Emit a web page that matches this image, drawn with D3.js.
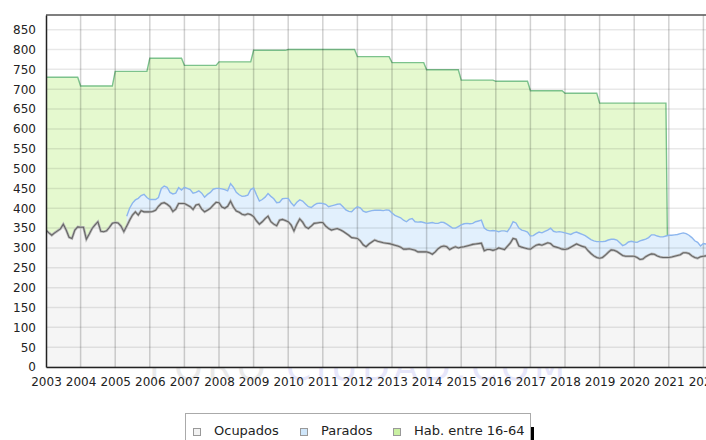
<!DOCTYPE html>
<html>
<head>
<meta charset="utf-8">
<script src="https://cdn.jsdelivr.net/npm/d3@7"></script>
<style>
  body { margin: 0; background: #fff; }
  svg { display: block; font-family: "DejaVu Sans", sans-serif; }
</style>
</head>
<body>
<div id="chart"></div>
<script>
var svgWidth = 706;
var svgHeight = 440;

var margin = { top: 15, left: 46, bottom: 73 };

// Hab. entre 16-64: one value per year (drawn flat through the 12 months)
var habYears = [2003, 2004, 2005, 2006, 2007, 2008, 2009, 2010, 2011, 2012,
    2013, 2014, 2015, 2016, 2017, 2018, 2019, 2020];
var habValues = [730, 708, 745, 778, 760, 769, 798, 800, 800, 782,
    767, 749, 723, 720, 696, 690, 665, 665];
var habEnd = 0; // series stops after 2020

// Ocupados, monthly from January 2003
var ocupStart = 2003;
var ocupados = [
    345, 338, 332, 338, 343, 348, 360, 345, 327, 324, 345, 353,
    352, 352, 322, 335, 349, 358, 366, 342, 341, 343, 352, 362,
    364, 363, 355, 341, 355, 370, 383, 391, 383, 394, 391, 391,
    391, 392, 395, 405, 412, 414, 410, 404, 392, 398, 412, 412,
    412, 408, 404, 397, 408, 410, 398, 391, 395, 400, 408, 415,
    414, 403, 400, 405, 418, 403, 393, 390, 385, 383, 386, 384,
    379, 368, 360, 366, 374, 380, 366, 360, 356, 370, 372, 369,
    366, 358, 343, 360, 373, 365, 353, 349, 355, 362, 363, 364,
    364, 355, 349, 345, 347, 349, 346, 342, 337, 332, 326, 325,
    324, 318, 308, 303, 310, 315, 320, 317, 315, 313, 312, 311,
    309, 307, 305, 302, 297, 297, 298, 296, 294, 290, 290, 290,
    290, 288, 284, 290, 298, 303, 305, 303, 296, 300, 303, 300,
    302, 303, 305, 307, 309, 310, 311, 312, 293, 296, 296, 294,
    296, 300, 298, 296, 304, 312, 324, 322, 305, 302, 300, 298,
    297, 302, 307, 309, 307, 310, 313, 311, 304, 302, 300, 297,
    296, 298, 302, 306, 310, 307, 304, 302, 293, 286, 280, 276,
    274, 276, 282, 289, 295, 294, 291, 286, 281, 279, 279, 279,
    279, 276, 271, 272, 278, 282, 285, 284, 280, 277, 276, 276,
    276, 277, 279, 281, 283, 288, 288, 286, 280, 276, 274, 278,
    279, 280
];

// Parados, monthly from May 2005 (stacked on Ocupados)
var paroStart = 2005 + 4 / 12;
var parados = [
                        25, 30, 30, 30, 42, 38, 44, 36,
    31, 30, 27, 22, 38, 42, 43, 36, 44, 40, 40, 34,
    41, 42, 43, 41, 32, 34, 40, 37, 40, 40, 40, 35,
    36, 46, 47, 39, 44, 50, 47, 44, 45, 48, 47, 63,
    72, 66, 58, 56, 54, 57, 64, 64, 58, 45, 52, 56,
    59, 56, 63, 55, 48, 53, 58, 55, 47, 46, 49, 49,
    48, 55, 55, 61, 61, 61, 65, 62, 59, 60, 65, 74,
    80, 83, 85, 87, 82, 79, 75, 78, 80, 81, 84, 84,
    79, 75, 74, 74, 73, 69, 74, 78, 72, 75, 76, 74,
    72, 75, 80, 72, 64, 62, 59, 57, 59, 50, 47, 54,
    56, 58, 57, 54, 53, 56, 57, 58, 57, 49, 47, 50,
    47, 41, 45, 47, 37, 40, 42, 41, 45, 43, 43, 42,
    33, 29, 29, 31, 31, 32, 32, 39, 38, 38, 41, 43,
    42, 38, 32, 32, 30, 30, 30, 29, 33, 35, 38, 40,
    42, 40, 35, 31, 27, 28, 29, 27, 25, 30, 36, 38,
    36, 38, 47, 48, 44, 44, 48, 49, 50, 51, 52, 54,
    56, 55, 54, 53, 53, 50, 48, 46, 46, 42, 40, 27,
    32, 30
];

var tickYears = d3.range(2003, 2023);
var yTicks = d3.range(0, 851, 50);
var legendLabels = ["Ocupados", "Parados", "Hab. entre 16-64"];
var legendColors = ["#f2f2f2", "#cfe6fa", "#c9f0a2"];

// build point lists
var habData = [];
habYears.forEach(function (y, i) {
    for (var m = 0; m < 12; m++) habData.push({ t: y + m / 12, v: habValues[i] });
});
habData.push({ t: habYears[habYears.length - 1] + 1, v: habEnd });

var ocupData = ocupados.map(function (v, i) {
    return { t: ocupStart + i / 12, v: v };
});

var offset = Math.round((paroStart - ocupStart) * 12);
var paroData = parados.map(function (v, i) {
    return { t: paroStart + i / 12, lo: ocupados[offset + i], hi: ocupados[offset + i] + v };
});

var xScale = d3.scaleLinear()
    .domain([2003, 2022.3])
    .range([margin.left, margin.left + 19.3 * 34.6]);
var yScale = d3.scaleLinear()
    .domain([0, 887])
    .range([367, margin.top]);

var svg = d3.select("#chart")
    .append("svg")
    .attr("width", svgWidth)
    .attr("height", svgHeight);

// watermark sits behind the plot, only its lower part shows under the axis
var wm = svg.append("text")
    .attr("x", 149)
    .attr("y", 380)
    .attr("font-family", "'DejaVu Sans', sans-serif")
    .attr("font-size", 36)
    .attr("textLength", 416)
    .attr("lengthAdjust", "spacing");
wm.append("tspan").attr("fill", "#e9e9e9").text("FORO ");
wm.append("tspan").attr("fill", "#e6e6fa").text("CIUDAD.COM");

svg.append("clipPath").attr("id", "plot")
    .append("rect")
    .attr("x", margin.left).attr("y", margin.top)
    .attr("width", svgWidth - margin.left).attr("height", 367 - margin.top);

var plot = svg.append("g").attr("clip-path", "url(#plot)");

plot.append("rect")
    .attr("x", margin.left).attr("y", margin.top)
    .attr("width", svgWidth - margin.left).attr("height", 367 - margin.top)
    .attr("fill", "#fff");

// green area and its line go first, so the drop after 2020 hides under the others
plot.append("path")
    .datum(habData)
    .attr("fill", "#e5f9cf")
    .attr("d", d3.area().x(d => xScale(d.t)).y0(yScale(0)).y1(d => yScale(d.v)));

plot.append("path")
    .datum(habData)
    .attr("fill", "none")
    .attr("stroke", "#7cc28c")
    .attr("stroke-width", 1.4)
    .attr("d", d3.line().x(d => xScale(d.t)).y(d => yScale(d.v)));

plot.append("path")
    .datum(paroData)
    .attr("fill", "#e2f0fd")
    .attr("d", d3.area().x(d => xScale(d.t)).y0(d => yScale(d.lo)).y1(d => yScale(d.hi)));

plot.append("path")
    .datum(ocupData)
    .attr("fill", "#f5f5f5")
    .attr("d", d3.area().x(d => xScale(d.t)).y0(yScale(0)).y1(d => yScale(d.v)));

// grid
plot.append("g")
    .selectAll("line")
    .data(yTicks)
    .enter()
    .append("line")
    .attr("x1", margin.left).attr("x2", svgWidth)
    .attr("y1", d => yScale(d)).attr("y2", d => yScale(d))
    .attr("stroke", "rgba(0,0,0,0.09)")
    .attr("stroke-width", 1.5);

plot.append("g")
    .selectAll("line")
    .data(tickYears)
    .enter()
    .append("line")
    .attr("x1", d => xScale(d)).attr("x2", d => xScale(d))
    .attr("y1", margin.top).attr("y2", 367)
    .attr("stroke", "rgba(0,0,0,0.18)")
    .attr("stroke-width", 1.5);

// lines
plot.append("path")
    .datum(paroData)
    .attr("fill", "none")
    .attr("stroke", "#8db6ee")
    .attr("stroke-width", 1.4)
    .attr("d", d3.line().x(d => xScale(d.t)).y(d => yScale(d.hi)));

plot.append("path")
    .datum(ocupData)
    .attr("fill", "none")
    .attr("stroke", "#b8b8b8")
    .attr("stroke-width", 2.6)
    .attr("d", d3.line().x(d => xScale(d.t)).y(d => yScale(d.v)));

plot.append("path")
    .datum(ocupData)
    .attr("fill", "none")
    .attr("stroke", "#666")
    .attr("stroke-width", 1.1)
    .attr("d", d3.line().x(d => xScale(d.t)).y(d => yScale(d.v)));

// frame and axes
svg.append("line")
    .attr("x1", margin.left).attr("x2", svgWidth)
    .attr("y1", margin.top).attr("y2", margin.top)
    .attr("stroke", "#555").attr("stroke-width", 1.5);

var leftAxis = d3.axisLeft(yScale).tickValues(yTicks).tickSize(0).tickPadding(10);
var gy = svg.append("g")
    .attr("transform", `translate(${margin.left}, 0)`)
    .call(leftAxis);
gy.select(".domain").attr("stroke", "#222").attr("stroke-width", 1.5);
gy.selectAll("text").attr("font-size", 12).attr("fill", "#222")
    .attr("font-family", "'DejaVu Sans', sans-serif");

var bottomAxis = d3.axisBottom(xScale).tickValues(tickYears).tickSize(0).tickPadding(10)
    .tickFormat(d3.format("d"));
var gx = svg.append("g")
    .attr("transform", `translate(0, 367)`)
    .call(bottomAxis);
gx.select(".domain").attr("stroke", "#222").attr("stroke-width", 1.5);
gx.selectAll("text").attr("font-size", 12).attr("fill", "#222")
    .attr("font-family", "'DejaVu Sans', sans-serif");

// legend
var legend = svg.append("g");
legend.append("rect")
    .attr("x", 530).attr("y", 427).attr("width", 4).attr("height", 20)
    .attr("fill", "#000");
legend.append("rect")
    .attr("x", 185.5).attr("y", 413.5).attr("width", 345).attr("height", 40)
    .attr("fill", "#fff").attr("stroke", "#aaa");

var legendX = [193, 300, 393];
legendLabels.forEach(function (label, i) {
    legend.append("rect")
        .attr("x", legendX[i] + 0.5).attr("y", 428.5)
        .attr("width", 7).attr("height", 7)
        .attr("fill", legendColors[i]).attr("stroke", "#999");
    legend.append("text")
        .attr("x", legendX[i] + 21).attr("y", 435)
        .attr("font-size", 13).attr("fill", "#222")
        .text(label);
});
</script>
</body>
</html>
